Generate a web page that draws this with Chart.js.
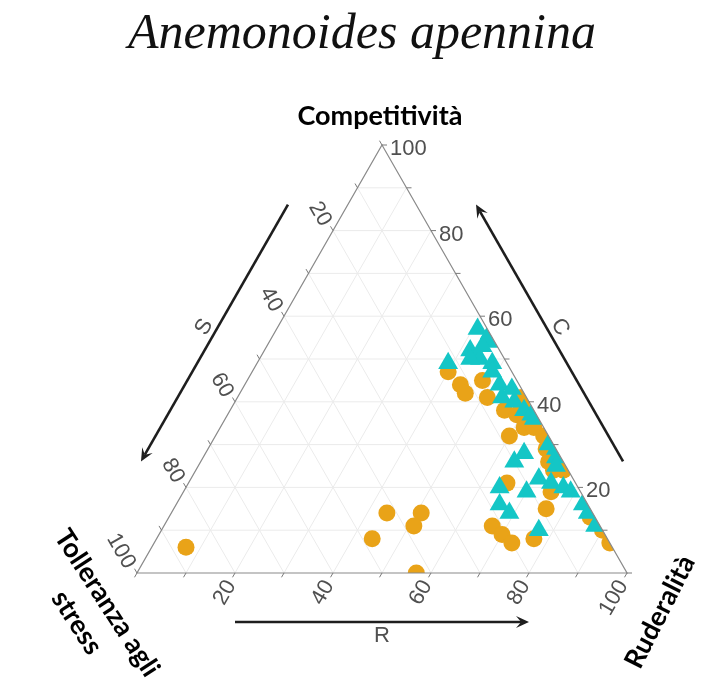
<!DOCTYPE html>
<html>
<head>
<meta charset="utf-8">
<script src="https://cdn.jsdelivr.net/npm/chart.js@4.4.0/dist/chart.umd.min.js"></script>
<style>
  html, body { margin: 0; padding: 0; background: #ffffff; }
  canvas { display: block; }
</style>
</head>
<body>
<canvas id="chart" width="712" height="693"></canvas>
<script>
// ---- Text ----
const speciesName = 'Anemonoides apennina';
const labelCompetitive = 'Competitività';
const labelStress = ['Tolleranza agli', 'stress'];
const labelRuderal = 'Ruderalità';
const arrowLetters = { S: 'S', C: 'C', R: 'R' };

// ---- Axis ticks ----
const tickLabels = [20, 40, 60, 80, 100];
const gridSteps = [10, 20, 30, 40, 50, 60, 70, 80, 90];
const tickSteps = [0, 10, 20, 30, 40, 50, 60, 70, 80, 90, 100];

// ---- Series 1 (circles): C, S, R percentages ----
const circleC = [6, 14, 14, 11, 8, 0, 47, 44, 42, 45, 41, 38, 37, 32, 34, 34, 39, 32, 29, 26, 24, 24, 21, 11, 9, 7, 8, 15, 19, 13, 10, 7, 41];
const circleS = [87, 42, 35, 38, 48, 43, 13, 12, 12, 7, 8, 6, 4, 8, 4, 2, 2, 1, 2, 3, 3, 1, 14, 22, 21, 20, 15, 9, 6, 1, 0, 0, 1];
const circleR = [7, 44, 51, 51, 44, 57, 40, 44, 46, 48, 51, 56, 59, 60, 62, 64, 59, 67, 69, 71, 73, 75, 65, 67, 70, 73, 77, 76, 75, 86, 90, 93, 58];

// ---- Series 2 (triangles): C, S, R percentages ----
const triangleC = [57, 52, 54, 49, 50, 49, 44, 41, 40, 38, 47, 43, 37, 28, 26, 29, 27, 25, 20, 16, 14, 19, 22, 21, 20, 19, 16, 14, 11, 10, 50, 53, 56, 36, 30];
const triangleS = [2, 6, 1, 12, 5, 3, 4, 5, 3, 2, 4, 2, 1, 7, 10, 0, 1, 2, 16, 18, 17, 11, 7, 5, 3, 2, 1, 1, 1, 13, 7, 3, 0, 1, 1];
const triangleR = [41, 42, 45, 39, 45, 48, 52, 54, 57, 60, 49, 55, 62, 65, 64, 71, 72, 73, 64, 66, 69, 70, 71, 74, 77, 79, 83, 85, 88, 77, 43, 44, 44, 63, 69];

const orange = '#E9A318';
const teal = '#14C6C6';
const tickGray = '#505050';

// Ternary (C, S, R) -> cartesian data space: x = R + C/2, y = C
function toXY(c, s, r) { return { x: r + c / 2, y: c }; }
const circlePoints = circleC.map((c, i) => toXY(c, circleS[i], circleR[i]));
const trianglePoints = triangleC.map((c, i) => toXY(c, triangleS[i], triangleR[i]));

function pix(chart, c, s, r) {
  const p = toXY(c, s, r);
  return { x: chart.scales.x.getPixelForValue(p.x), y: chart.scales.y.getPixelForValue(p.y) };
}

function line(ctx, a, b) {
  ctx.beginPath(); ctx.moveTo(a.x, a.y); ctx.lineTo(b.x, b.y); ctx.stroke();
}

function text(ctx, str, x, y, angleDeg, align) {
  ctx.save();
  ctx.translate(x, y);
  ctx.rotate(angleDeg * Math.PI / 180);
  ctx.textAlign = align || 'center';
  ctx.fillText(str, 0, 0);
  ctx.restore();
}

function arrow(ctx, a, b) {
  const dx = b.x - a.x, dy = b.y - a.y, len = Math.hypot(dx, dy);
  const ux = dx / len, uy = dy / len;
  const head = 13, half = 6;
  ctx.beginPath();
  ctx.moveTo(a.x, a.y);
  ctx.lineTo(b.x - ux * head * 0.6, b.y - uy * head * 0.6);
  ctx.stroke();
  ctx.beginPath();
  ctx.moveTo(b.x, b.y);
  ctx.lineTo(b.x - ux * head - uy * half, b.y - uy * head + ux * half);
  ctx.lineTo(b.x - ux * head * 0.6, b.y - uy * head * 0.6);
  ctx.lineTo(b.x - ux * head + uy * half, b.y - uy * head - ux * half);
  ctx.closePath();
  ctx.fill();
}

const ternaryPlugin = {
  id: 'ternaryFrame',
  beforeDatasetsDraw(chart) {
    const ctx = chart.ctx;
    const top = pix(chart, 100, 0, 0), left = pix(chart, 0, 100, 0), right = pix(chart, 0, 0, 100);
    ctx.save();
    // grid lines of constant C, R and S
    ctx.strokeStyle = '#ebebeb';
    ctx.lineWidth = 1;
    gridSteps.forEach(k => {
      line(ctx, pix(chart, k, 100 - k, 0), pix(chart, k, 0, 100 - k));
      line(ctx, pix(chart, 0, 100 - k, k), pix(chart, 100 - k, 0, k));
      line(ctx, pix(chart, 0, k, 100 - k), pix(chart, 100 - k, k, 0));
    });
    // points are clipped to the triangle
    ctx.beginPath();
    ctx.moveTo(top.x, top.y); ctx.lineTo(right.x, right.y); ctx.lineTo(left.x, left.y);
    ctx.closePath();
    ctx.clip();
  },
  afterDatasetsDraw(chart) {
    const ctx = chart.ctx;
    ctx.restore();
    const top = pix(chart, 100, 0, 0), left = pix(chart, 0, 100, 0), right = pix(chart, 0, 0, 100);

    ctx.save();
    // triangle outline
    ctx.strokeStyle = '#8a8a8a';
    ctx.lineWidth = 1.2;
    ctx.beginPath();
    ctx.moveTo(top.x, top.y); ctx.lineTo(right.x, right.y); ctx.lineTo(left.x, left.y);
    ctx.closePath();
    ctx.stroke();

    // tick marks
    ctx.strokeStyle = '#7a7a7a';
    ctx.lineWidth = 1;
    tickSteps.forEach(v => {
      const pc = pix(chart, v, 0, 100 - v);
      line(ctx, pc, { x: pc.x + 5, y: pc.y });
      const ps = pix(chart, 100 - v, v, 0);
      line(ctx, ps, { x: ps.x - 2.5, y: ps.y - 4.3 });
      const pr = pix(chart, 0, 100 - v, v);
      line(ctx, pr, { x: pr.x - 2.5, y: pr.y + 4.3 });
    });

    // tick labels
    ctx.fillStyle = tickGray;
    ctx.font = '22px "Liberation Sans", Arial, sans-serif';
    ctx.textBaseline = 'middle';
    tickLabels.forEach(v => {
      const pc = pix(chart, v, 0, 100 - v);
      text(ctx, String(v), pc.x + 8, pc.y + 4, 0, 'left');
      const ps = pix(chart, 100 - v, v, 0);
      text(ctx, String(v), ps.x - 7, ps.y - 6, 60, 'right');
      const pr = pix(chart, 0, 100 - v, v);
      text(ctx, String(v), pr.x - 4, pr.y + 9, -60, 'right');
    });

    // direction arrows beside each edge
    const offset = 52, letterOffset = 64;
    const nL = { x: -Math.cos(Math.PI / 6), y: -0.5 };
    const nR = { x: Math.cos(Math.PI / 6), y: -0.5 };
    const nB = { x: 0, y: 1 };
    const shift = (p, n, d) => ({ x: p.x + n.x * d, y: p.y + n.y * d });
    ctx.strokeStyle = '#1e1e1e';
    ctx.fillStyle = '#1e1e1e';
    ctx.lineWidth = 2.6;
    arrow(ctx, shift(pix(chart, 80, 20, 0), nL, offset), shift(pix(chart, 20, 80, 0), nL, offset));
    arrow(ctx, shift(pix(chart, 20, 0, 80), nR, offset), shift(pix(chart, 80, 0, 20), nR, offset));
    arrow(ctx, shift(pix(chart, 0, 80, 20), nB, offset - 3), shift(pix(chart, 0, 20, 80), nB, offset - 3));

    ctx.fillStyle = tickGray;
    ctx.font = '22px "Liberation Sans", Arial, sans-serif';
    const ls = shift(pix(chart, 50, 50, 0), nL, letterOffset);
    text(ctx, arrowLetters.S, ls.x, ls.y, -60, 'center');
    const lc = shift(pix(chart, 50, 0, 50), nR, letterOffset);
    text(ctx, arrowLetters.C, lc.x, lc.y, 60, 'center');
    const lr = shift(pix(chart, 0, 50, 50), nB, letterOffset - 1);
    text(ctx, arrowLetters.R, lr.x, lr.y, 0, 'center');

    // species name and strategy labels
    ctx.fillStyle = '#111111';
    ctx.textBaseline = 'alphabetic';
    ctx.font = 'italic 50px "Liberation Serif", "DejaVu Serif", serif';
    text(ctx, speciesName, 362, 48, 0, 'center');

    ctx.fillStyle = '#000000';
    ctx.textBaseline = 'middle';
    ctx.font = 'bold 27px Lato, "Open Sans", sans-serif';
    text(ctx, labelCompetitive, 380, 116, 0, 'center');
    text(ctx, labelRuderal, 660, 612, -63, 'center');
    ctx.save();
    ctx.translate(107, 603);
    ctx.rotate(57 * Math.PI / 180);
    ctx.textAlign = 'center';
    ctx.fillText(labelStress[0], 0, 0);
    ctx.fillText(labelStress[1], 0, 36);
    ctx.restore();

    ctx.restore();
  }
};

new Chart(document.getElementById('chart'), {
  type: 'scatter',
  data: {
    datasets: [
      {
        label: 'triangoli',
        data: trianglePoints,
        pointStyle: 'triangle',
        pointRadius: 11.5,
        pointBackgroundColor: teal,
        pointBorderColor: teal,
        pointBorderWidth: 0
      },
      {
        label: 'cerchi',
        data: circlePoints,
        pointStyle: 'circle',
        pointRadius: 8.5,
        pointBackgroundColor: orange,
        pointBorderColor: orange,
        pointBorderWidth: 0
      }
    ]
  },
  options: {
    responsive: false,
    animation: false,
    events: [],
    layout: { padding: { left: 137, right: 85, top: 145, bottom: 120 } },
    scales: {
      x: { type: 'linear', min: 0, max: 100, display: false },
      y: { type: 'linear', min: 0, max: 100, display: false }
    },
    plugins: { legend: { display: false }, tooltip: { enabled: false }, title: { display: false } }
  },
  plugins: [ternaryPlugin]
});
</script>
</body>
</html>
